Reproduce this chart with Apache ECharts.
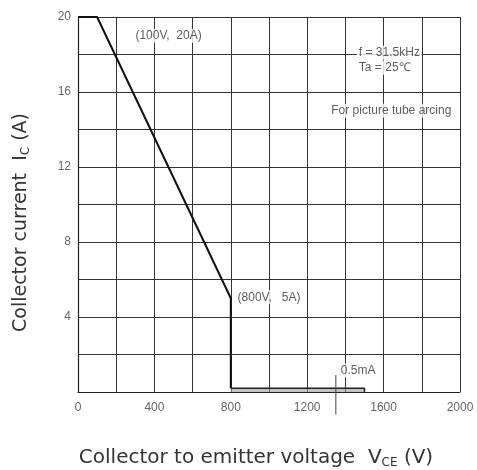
<!DOCTYPE html>
<html>
<head>
<meta charset="utf-8">
<script src="https://cdn.jsdelivr.net/npm/echarts@6/dist/echarts.min.js"></script>
<style>
  html, body { margin: 0; padding: 0; background: #fff; }
  #chart { width: 477px; height: 470px; }
</style>
</head>
<body>
<div id="chart"></div>
<script>
// safe operating curve (V, A)
const soaV = [0, 100, 800, 800];
const soaI = [20, 20, 5, 0.2];
// leakage tail at 0.5 mA
const tailV = [800, 1500, 1500];
const tailI = [0.2, 0.2, 0];
// 0.5mA marker
const markV = [1350, 1350];
const markI = [0.9, -1.2];

const xTicks = [0, 400, 800, 1200, 1600, 2000];
const yTicks = [4, 8, 12, 16, 20];

const notes = [
    { v: 290, i: 19.0, text: '(100V,  20A)' },
    { v: 1460, i: 18.1, text: 'f = 31.5kHz' },
    { v: 1460, i: 17.3, text: 'Ta = 25\u2103' },
    { v: 1965, i: 15.0, text: 'For picture tube arcing', align: 'right' },
    { v: 825, i: 5.05, text: '(800V,   5A)' },
    { v: 1365, i: 1.15, text: '0.5mA' }
];

const toPts = (xs, ys) => xs.map((x, k) => [x, ys[k]]);
const font = 'Liberation Sans';
const nameFont = 'DejaVu Sans';

const chart = echarts.init(document.getElementById('chart'));
chart.setOption({
    backgroundColor: '#fff',
    animation: false,
    grid: { left: 78, right: 17, top: 17, bottom: 78, outerBoundsMode: 'none' },
    xAxis: {
        type: 'value', min: 0, max: 2000, interval: 200,
        name: '{a|Collector to emitter voltage  V}{s|CE}{a| (V)}',
        nameLocation: 'middle', nameGap: 54,
        nameTextStyle: {
            padding: [0, 26, 0, 0],
            rich: {
                a: { fontFamily: nameFont, fontSize: 20, color: '#333', lineHeight: 24 },
                s: { fontFamily: nameFont, fontSize: 12, color: '#333', lineHeight: 24, padding: [10, 0, 0, 0] }
            }
        },
        axisLine: { lineStyle: { color: '#222', width: 1.2 } },
        axisTick: { show: false },
        splitLine: { show: true, lineStyle: { color: '#333', width: 1 } },
        axisLabel: {
            margin: 10, fontFamily: font, fontSize: 12, color: '#666',
            formatter: v => xTicks.includes(v) ? String(v) : ''
        }
    },
    yAxis: {
        type: 'value', min: 0, max: 20, interval: 2,
        name: '{a|Collector current  I}{s|C}{a| (A)}',
        nameLocation: 'middle', nameGap: 46, nameRotate: 90,
        nameTextStyle: {
            padding: [0, 36, 0, 0],
            rich: {
                a: { fontFamily: nameFont, fontSize: 19, color: '#333', lineHeight: 22 },
                s: { fontFamily: nameFont, fontSize: 12, color: '#333', lineHeight: 22, padding: [9, 0, 0, 0] }
            }
        },
        axisLine: { show: true, lineStyle: { color: '#222', width: 1.2 } },
        axisTick: { show: false },
        splitLine: { show: true, lineStyle: { color: '#333', width: 1 } },
        axisLabel: {
            margin: 7, fontFamily: font, fontSize: 12, color: '#666',
            formatter: v => yTicks.includes(v) ? String(v) : ''
        }
    },
    series: [
        {
            type: 'line', data: toPts(soaV, soaI), symbol: 'none', clip: false,
            lineStyle: { color: '#111', width: 2 }
        },
        {
            type: 'line', data: toPts(tailV, tailI), symbol: 'none',
            lineStyle: { color: '#222', width: 1.5 },
            areaStyle: { color: '#999', opacity: 0.6 }
        },
        {
            type: 'line', data: toPts(markV, markI), symbol: 'none', clip: false,
            lineStyle: { color: '#444', width: 1 }
        },
        {
            type: 'scatter', symbolSize: 0, silent: true,
            data: notes.map(n => ({
                value: [n.v, n.i],
                label: {
                    show: true, position: 'inside', formatter: n.text,
                    align: n.align || 'left', verticalAlign: 'middle',
                    fontFamily: font, fontSize: 12, color: '#333',
                    backgroundColor: '#fff', padding: [1, 2]
                }
            }))
        }
    ]
});
</script>
</body>
</html>
